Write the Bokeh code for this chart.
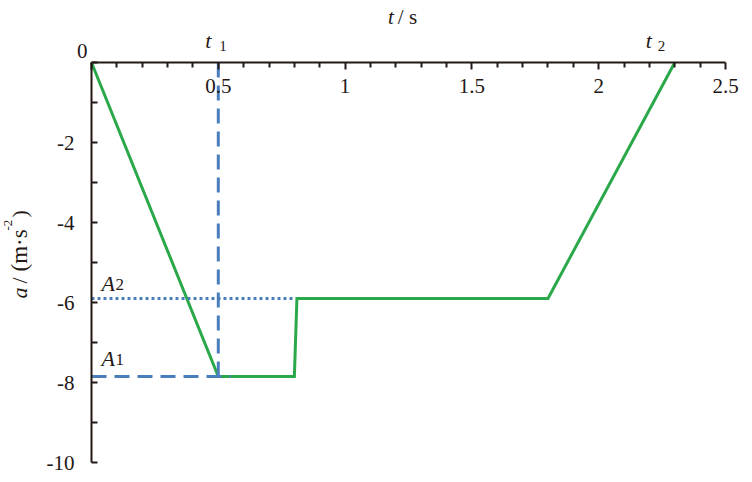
import math
from bokeh.plotting import figure
from bokeh.models import Range1d, FixedTicker, Label
from bokeh.embed import file_html
from bokeh.resources import INLINE

# ---- data ----
t_vals = [0.0, 0.5, 0.8, 0.81, 1.8, 2.3]
a_vals = [0.0, -7.85, -7.85, -5.9, -5.9, 0.0]
t1 = 0.5
t2 = 2.3
A1 = -7.85
A2 = -5.9
A1_end = 0.55
A2_end = 0.8

x_ticks = [0.0, 0.5, 1.0, 1.5, 2.0, 2.5]
x_tick_labels = ["", "0.5", "1", "1.5", "2", "2.5"]
x_minor = [0.1, 0.2, 0.3, 0.4, 0.6, 0.7, 0.8, 0.9, 1.1, 1.2, 1.3, 1.4,
           1.6, 1.7, 1.8, 1.9, 2.1, 2.2, 2.3, 2.4]
y_ticks = [-10, -8, -6, -4, -2, 0]
y_tick_labels = ["-10", "-8", "-6", "-4", "-2", ""]
y_minor = [-9, -7, -5, -3, -1]

GREEN = "#2aa84a"
BLUE = "#4a7ebb"
INK = "#231815"
FONT = "Liberation Serif"
FS = "21px"

# ---- layout: the frame fills the canvas, axes sit at fixed data locations ----
W, H = 752, 482
X0_PX, X1_PX = 91, 725      # screen x of t = 0 and t = 2.5
Y0_PX, Y1_PX = 62, 462      # screen y of a = 0 and a = -10
ppx = (X1_PX - X0_PX) / (x_ticks[-1] - x_ticks[0])
ppy = (Y1_PX - Y0_PX) / (y_ticks[-1] - y_ticks[0])
x_range = Range1d(x_ticks[0] - X0_PX / ppx, x_ticks[-1] + (W - X1_PX) / ppx)
y_range = Range1d(y_ticks[0] - (H - Y1_PX) / ppy, y_ticks[-1] + Y0_PX / ppy)

p = figure(width=W, height=H, output_backend="svg", toolbar_location=None,
           x_range=x_range, y_range=y_range, x_axis_location="above",
           min_border_left=0, min_border_right=0, min_border_top=0,
           min_border_bottom=0)
p.outline_line_color = None
p.grid.visible = False
p.background_fill_color = "white"
p.border_fill_color = "white"

xa = p.xaxis[0]
xa.fixed_location = 0
xa.bounds = (x_ticks[0], x_ticks[-1])
xa.ticker = FixedTicker(ticks=x_ticks, minor_ticks=x_minor)
xa.major_label_overrides = {v: s for v, s in zip(x_ticks, x_tick_labels)}
xa.major_tick_in = 7
xa.major_tick_out = 0
xa.minor_tick_in = 5
xa.minor_tick_out = 0
xa.major_label_standoff = -30
xa.axis_line_width = 2
xa.axis_line_color = INK
xa.major_tick_line_width = 2
xa.major_tick_line_color = INK
xa.minor_tick_line_width = 2
xa.minor_tick_line_color = INK
xa.major_label_text_font = FONT
xa.major_label_text_font_size = FS
xa.major_label_text_color = INK

ya = p.yaxis[0]
ya.fixed_location = 0
ya.bounds = (y_ticks[0], y_ticks[-1])
ya.ticker = FixedTicker(ticks=y_ticks, minor_ticks=y_minor)
ya.major_label_overrides = {v: s for v, s in zip(y_ticks, y_tick_labels)}
ya.major_tick_in = 6
ya.major_tick_out = 0
ya.minor_tick_in = 6
ya.minor_tick_out = 0
ya.major_label_standoff = 17
ya.axis_line_width = 2
ya.axis_line_color = INK
ya.major_tick_line_width = 2
ya.major_tick_line_color = INK
ya.minor_tick_line_width = 2
ya.minor_tick_line_color = INK
ya.major_label_text_font = FONT
ya.major_label_text_font_size = FS
ya.major_label_text_color = INK

# green a-t curve
p.line(t_vals, a_vals, line_color=GREEN, line_width=3, line_join="miter")

# blue guide lines (drawn over the curve)
p.line([t1, t1], [0, A1], line_color=BLUE, line_width=3, line_dash="15 8")
p.line([0, A1_end], [A1, A1], line_color=BLUE, line_width=3, line_dash="15 8")
p.line([0, A2_end], [A2, A2], line_color=BLUE, line_width=3, line_dash="3 3")


def lab(x, y, text, xo=0, yo=0, italic=False, size=FS, align="left",
        angle=0.0):
    p.add_layout(Label(x=x, y=y, text=text, x_offset=xo, y_offset=yo,
                       text_font=FONT, text_font_size=size, text_color=INK,
                       text_font_style="italic" if italic else "normal",
                       text_align=align, text_baseline="alphabetic",
                       angle=angle))


# origin "0"
lab(0, 0, "0", xo=-4, yo=12, align="right")
# top axis title  t / s
lab(1.2, 0, "t", xo=-2, yo=46, italic=True, align="right")
lab(1.2, 0, "/ s", xo=2, yo=46)
# t1, t2 markers
lab(t1, 0, "t", xo=-7, yo=22, italic=True, align="right", size="22px")
lab(t1, 0, "1", xo=1, yo=17, size="15px")
lab(t2, 0, "t", xo=-23, yo=22, italic=True, align="right", size="22px")
lab(t2, 0, "2", xo=-17, yo=17, size="15px")
# A1, A2
lab(0, A2, "A", xo=10, yo=15, italic=True, size="22px")
lab(0, A2, "2", xo=24, yo=14, size="17px")
lab(0, A1, "A", xo=10, yo=18, italic=True, size="22px")
lab(0, A1, "1", xo=24, yo=17, size="17px")
# y axis title (rotated):  a / (m·s^-2)
rot = math.pi / 2
lab(0, -6.0, "a", xo=-72, yo=4, italic=True, angle=rot, size="22px")
lab(0, -6.0, "/", xo=-72, yo=19, angle=rot, size="22px")
lab(0, -6.0, "(m·s", xo=-72, yo=31, angle=rot, size="23px")
lab(0, -6.0, "-2", xo=-84, yo=72, size="13px", angle=rot)
lab(0, -6.0, ")", xo=-72, yo=85, angle=rot, size="22px")

open("out.html", "w").write(file_html(p, INLINE))
